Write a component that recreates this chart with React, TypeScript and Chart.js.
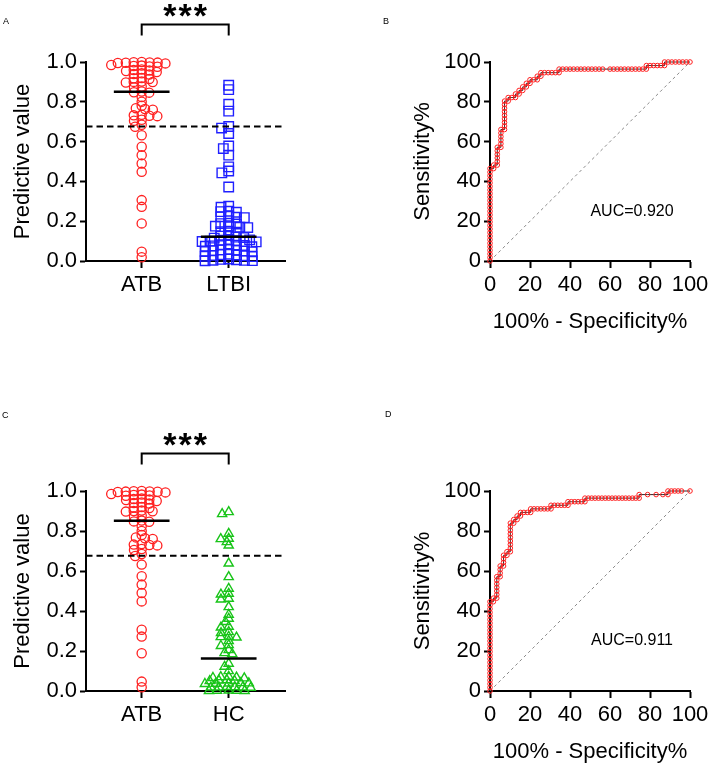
import React, { useEffect, useRef } from "react";
import { Chart, registerables } from "chart.js";

Chart.register(...registerables);

const FONT = "'Liberation Sans', Arial, Helvetica, sans-serif";
Chart.defaults.font.family = FONT;
Chart.defaults.color = "#000";

// ---------------- data ----------------
const GROUPS_A = ["ATB", "LTBI"];
const GROUPS_C = ["ATB", "HC"];
const SCATTER_Y_TICKS = [0, 0.2, 0.4, 0.6, 0.8, 1.0];
const ROC_TICKS = [0, 20, 40, 60, 80, 100];

const ATB_VALUES = [
  0.998, 0.995, 1.0, 0.997, 0.993, 0.999, 0.996,
  0.982, 0.978, 0.985, 0.98, 0.976,
  0.96, 0.955, 0.962, 0.957, 0.95,
  0.94, 0.943, 0.937,
  0.92, 0.915, 0.918,
  0.9, 0.902, 0.897, 0.899,
  0.877, 0.872,
  0.852, 0.848, 0.846,
  0.824, 0.8, 0.78,
  0.768, 0.764, 0.76,
  0.735, 0.732, 0.73, 0.728,
  0.71, 0.705,
  0.685, 0.675,
  0.632, 0.574, 0.532, 0.49, 0.448, 0.306, 0.272, 0.189, 0.047, 0.019,
];

const LTBI_VALUES = [
  0.883, 0.861, 0.788, 0.753, 0.676, 0.668, 0.641, 0.578, 0.565, 0.532, 0.473, 0.452, 0.443, 0.372,
  0.275, 0.27, 0.25, 0.248, 0.245, 0.225, 0.222, 0.22, 0.218, 0.19, 0.188, 0.186,
  0.175, 0.172, 0.17, 0.168, 0.15, 0.147, 0.145,
  0.128, 0.125, 0.12, 0.118, 0.115,
  0.108, 0.106, 0.104, 0.102, 0.1, 0.098, 0.096,
  0.085, 0.082, 0.08, 0.078, 0.076, 0.074, 0.072,
  0.058, 0.056, 0.054, 0.052, 0.05, 0.048, 0.046,
  0.034, 0.032, 0.03, 0.028, 0.026, 0.024, 0.022,
  0.01, 0.008, 0.006, 0.004, 0.003, 0.002, 0.001,
];

const HC_VALUES = [
  0.895, 0.885, 0.787, 0.762, 0.76, 0.745, 0.728, 0.638, 0.57, 0.512, 0.487, 0.483, 0.462, 0.458,
  0.42, 0.382, 0.362, 0.346, 0.322, 0.318, 0.295, 0.29, 0.272, 0.27, 0.268, 0.25, 0.23, 0.226,
  0.205, 0.19, 0.185, 0.137, 0.122, 0.1,
  0.072, 0.07, 0.068, 0.066, 0.064,
  0.055, 0.053, 0.051, 0.05,
  0.04, 0.039, 0.038, 0.037, 0.036,
  0.021, 0.02, 0.019, 0.019, 0.018, 0.017,
  0.003, 0.002, 0.002, 0.001, 0.001,
];

const ATB_CENTER = 0.851;
const LTBI_CENTER = 0.122;
const HC_CENTER = 0.162;
const CUTOFF = 0.676;
const SIGNIFICANCE = "***";

const ROC_B: number[][] = [
  [0, 0], [0, 1.79], [0, 3.57], [0, 5.36], [0, 7.14], [0, 8.93], [0, 10.71], [0, 12.5], [0, 14.29], [0, 16.07],
  [0, 17.86], [0, 19.64], [0, 21.43], [0, 23.21], [0, 25], [0, 26.79], [0, 28.57], [0, 30.36], [0, 32.14],
  [0, 33.93], [0, 35.71], [0, 37.5], [0, 39.29], [0, 41.07], [0, 42.86], [0, 44.64], [0, 46.43],
  [1.82, 46.43], [1.82, 48.21], [3.64, 48.21], [3.64, 50], [3.64, 51.79], [3.64, 53.57], [3.64, 55.36], [3.64, 57.14],
  [5.45, 57.14], [5.45, 58.93], [5.45, 60.71], [5.45, 62.5], [5.45, 64.29], [5.45, 66.07],
  [7.27, 66.07], [7.27, 67.86], [7.27, 69.64], [7.27, 71.43], [7.27, 73.21], [7.27, 75], [7.27, 76.79], [7.27, 78.57], [7.27, 80.36],
  [9.09, 80.36], [9.09, 82.14], [10.91, 82.14], [12.73, 82.14], [12.73, 83.93], [14.55, 83.93], [14.55, 85.71],
  [16.36, 85.71], [16.36, 87.5], [18.18, 87.5], [18.18, 89.29], [20, 89.29], [20, 91.07], [21.82, 91.07],
  [23.64, 91.07], [23.64, 92.86], [25.45, 92.86], [25.45, 94.64],
  [27.27, 94.64], [29.09, 94.64], [30.91, 94.64], [32.73, 94.64], [34.55, 94.64], [34.55, 96.43],
  [36.36, 96.43], [38.18, 96.43], [40, 96.43], [41.82, 96.43], [43.64, 96.43], [45.45, 96.43], [47.27, 96.43],
  [49.09, 96.43], [50.91, 96.43], [52.73, 96.43], [54.55, 96.43], [56.36, 96.43], [60, 96.43], [61.82, 96.43],
  [63.64, 96.43], [65.45, 96.43], [67.27, 96.43], [69.09, 96.43], [70.91, 96.43], [72.73, 96.43], [74.55, 96.43],
  [76.36, 96.43], [78.18, 96.43],
  [78.18, 98.21], [80, 98.21], [81.82, 98.21], [83.64, 98.21], [85.45, 98.21], [87.27, 98.21],
  [87.27, 100], [89.09, 100], [90.91, 100], [92.73, 100], [94.55, 100], [96.36, 100], [98.18, 100], [100, 100],
];

const ROC_D: number[][] = [
  [0, 0], [0, 1.79], [0, 3.57], [0, 5.36], [0, 7.14], [0, 8.93], [0, 10.71], [0, 12.5], [0, 14.29], [0, 16.07],
  [0, 17.86], [0, 19.64], [0, 21.43], [0, 23.21], [0, 25], [0, 26.79], [0, 28.57], [0, 30.36], [0, 32.14],
  [0, 33.93], [0, 35.71], [0, 37.5], [0, 39.29], [0, 41.07], [0, 42.86], [0, 44.64],
  [1.69, 44.64], [1.69, 46.43], [3.39, 46.43], [3.39, 48.21], [3.39, 50], [3.39, 51.79], [3.39, 53.57], [3.39, 55.36], [3.39, 57.14],
  [5.08, 57.14], [5.08, 58.93], [5.08, 60.71], [5.08, 62.5],
  [6.78, 62.5], [6.78, 64.29], [6.78, 66.07], [6.78, 67.86],
  [8.47, 67.86], [8.47, 69.64], [10.17, 69.64], [10.17, 71.43], [10.17, 73.21], [10.17, 75], [10.17, 76.79],
  [10.17, 78.57], [10.17, 80.36], [10.17, 82.14], [10.17, 83.93],
  [11.86, 83.93], [11.86, 85.71], [13.56, 85.71], [13.56, 87.5], [15.25, 87.5], [15.25, 89.29], [16.95, 89.29],
  [18.64, 89.29], [20.34, 89.29], [20.34, 91.07],
  [22.03, 91.07], [23.73, 91.07], [25.42, 91.07], [27.12, 91.07], [28.81, 91.07], [30.51, 91.07], [30.51, 92.86],
  [32.2, 92.86], [33.9, 92.86], [35.59, 92.86], [37.29, 92.86], [38.98, 92.86], [38.98, 94.64],
  [40.68, 94.64], [42.37, 94.64], [44.07, 94.64], [45.76, 94.64], [47.46, 94.64], [47.46, 96.43],
  [49.15, 96.43], [50.85, 96.43], [52.54, 96.43], [54.24, 96.43], [55.93, 96.43], [57.63, 96.43], [59.32, 96.43],
  [61.02, 96.43], [62.71, 96.43], [64.41, 96.43], [66.1, 96.43], [67.8, 96.43], [69.49, 96.43], [71.19, 96.43],
  [72.88, 96.43], [74.58, 96.43],
  [74.58, 98.21], [78.81, 98.21], [83.05, 98.21], [86.44, 98.21], [88.98, 98.21],
  [88.98, 100], [90.68, 100], [92.37, 100], [94.07, 100], [95.76, 100], [100, 100],
];

const CHANCE_LINE: number[][] = [[0, 0], [100, 100]];
const AUC_B = "AUC=0.920";
const AUC_D = "AUC=0.911";

// ---------------- helpers ----------------
type Area = { l: number; t: number; r: number; b: number };
type PanelDef = {
  key: string;
  left: number;
  top: number;
  w: number;
  h: number;
  area: Area;
  make: (area: Area, w: number, h: number) => any;
  swarm?: { dx: number; dy: number; values: number[] }[];
};

const X_MIN = -0.64;
const X_MAX = 1.647;
const TICK_FONT = { size: 22, family: FONT };

function axisCommon(tickLength: number) {
  return {
    grid: {
      display: true,
      drawOnChartArea: false,
      drawTicks: true,
      tickLength,
      tickWidth: 2,
      tickColor: "#000",
    },
    border: { display: true, color: "#000", width: 2 },
  };
}

// beeswarm layout (elliptical spacing) in pixel space -> offsets in x units
function swarmOffsets(values: number[], ppx: number, ppy: number, dx: number, dy: number): number[] {
  const d = dx;
  const k = dx / dy;
  const order = values.map((_, i) => i).sort((a, b) => values[b] - values[a]);
  const placed: { x: number; y: number }[] = [];
  const out = new Array(values.length).fill(0);
  for (const i of order) {
    const y = values[i] * ppy * k;
    const cands = [0];
    for (const p of placed) {
      const ddy = Math.abs(p.y - y);
      if (ddy < d) {
        const ddx = Math.sqrt(d * d - ddy * ddy);
        cands.push(p.x + ddx, p.x - ddx);
      }
    }
    cands.sort((a, b) => Math.abs(a) - Math.abs(b) || a - b);
    let best = 0;
    for (const c of cands) {
      if (placed.every((p) => (p.x - c) ** 2 + (p.y - y) ** 2 >= d * d - 1e-6)) {
        best = c;
        break;
      }
    }
    placed.push({ x: best, y });
    out[i] = best / ppx;
  }
  return out;
}

type Style = { color: string; pointStyle: string; radius: number; borderWidth: number };

function makeScatter(
  letter: string,
  letterX: number,
  letterY: number,
  cats: string[],
  series: number[][],
  centers: number[],
  styles: Style[]
) {
  return (area: Area, w: number, h: number) => {
    const datasets: any[] = [];
    series.forEach((vals, gi) => {
      const st = styles[gi];
      datasets.push({
        data: vals.map((v) => ({ x: gi, y: v })),
        pointStyle: st.pointStyle,
        pointRadius: st.radius,
        pointBorderWidth: st.borderWidth,
        pointBorderColor: st.color,
        pointBackgroundColor: "rgba(0,0,0,0)",
        borderColor: st.color,
        backgroundColor: "rgba(0,0,0,0)",
        showLine: false,
        clip: false,
        order: 3,
      });
    });
    centers.forEach((c, gi) => {
      datasets.push({
        data: [
          { x: gi - 0.32, y: c },
          { x: gi + 0.32, y: c },
        ],
        showLine: true,
        borderColor: "#000",
        borderWidth: 2.5,
        pointRadius: 0,
        clip: false,
        order: 1,
      });
    });
    datasets.push({
      data: [
        { x: X_MIN, y: CUTOFF },
        { x: X_MAX, y: CUTOFF },
      ],
      showLine: true,
      borderColor: "#000",
      borderWidth: 2,
      borderDash: [6.5, 4],
      pointRadius: 0,
      order: 0,
    });

    const annot = {
      id: "annot" + letter,
      afterDraw(chart: any) {
        const { ctx, chartArea: ca } = chart;
        const xs = chart.scales.x;
        const x0 = xs.getPixelForValue(0);
        const x1 = xs.getPixelForValue(1);
        ctx.save();
        ctx.strokeStyle = "#000";
        ctx.lineWidth = 2;
        ctx.beginPath();
        ctx.moveTo(x0, ca.top - 26.5);
        ctx.lineTo(x0, ca.top - 37.5);
        ctx.lineTo(x1, ca.top - 37.5);
        ctx.lineTo(x1, ca.top - 26.5);
        ctx.stroke();
        ctx.fillStyle = "#000";
        ctx.font = `bold 34px ${FONT}`;
        ctx.textAlign = "center";
        ctx.textBaseline = "alphabetic";
        try {
          (ctx as any).letterSpacing = "2px";
        } catch (e) {}
        ctx.fillText(SIGNIFICANCE, (x0 + x1) / 2 + 1, ca.top - 35);
        try {
          (ctx as any).letterSpacing = "0px";
        } catch (e) {}
        ctx.font = `9px ${FONT}`;
        ctx.textAlign = "left";
        ctx.fillText(letter, letterX, letterY);
        ctx.restore();
      },
    };

    return {
      type: "scatter",
      data: { datasets },
      plugins: [annot],
      options: {
        responsive: false,
        animation: false,
        devicePixelRatio: 1,
        events: [],
        layout: { padding: { left: 0, top: area.t, right: w - area.r, bottom: 0 } },
        plugins: { legend: { display: false }, tooltip: { enabled: false } },
        scales: {
          x: {
            type: "linear",
            min: X_MIN,
            max: X_MAX,
            ...axisCommon(7),
            afterBuildTicks: (s: any) => {
              s.ticks = cats.map((_, i) => ({ value: i }));
            },
            ticks: {
              font: TICK_FONT,
              color: "#000",
              padding: 4,
              autoSkip: false,
              maxRotation: 0,
              callback: (_v: any, i: number) => cats[i],
            },
            afterFit: (s: any) => {
              s.height = h - area.b;
              s.paddingLeft = 0;
              s.paddingRight = 0;
            },
          },
          y: {
            type: "linear",
            min: 0,
            max: 1,
            ...axisCommon(6),
            afterBuildTicks: (s: any) => {
              s.ticks = SCATTER_Y_TICKS.map((v) => ({ value: v }));
            },
            ticks: {
              font: TICK_FONT,
              color: "#000",
              padding: 3,
              autoSkip: false,
              callback: (_v: any, i: number) => SCATTER_Y_TICKS[i].toFixed(1),
            },
            title: {
              display: true,
              text: "Predictive value",
              font: TICK_FONT,
              color: "#000",
              padding: { top: 9.3, bottom: 0 },
            },
            afterFit: (s: any) => {
              s.width = area.l;
            },
          },
        },
      },
    };
  };
}

function makeRoc(letter: string, letterX: number, letterY: number, points: number[][], auc: string) {
  return (area: Area, w: number, h: number) => {
    const annot = {
      id: "annot" + letter,
      afterDraw(chart: any) {
        const { ctx } = chart;
        const xs = chart.scales.x;
        const ys = chart.scales.y;
        ctx.save();
        ctx.fillStyle = "#000";
        ctx.font = `16px ${FONT}`;
        ctx.textAlign = "center";
        ctx.textBaseline = "middle";
        ctx.fillText(auc, xs.getPixelForValue(71), ys.getPixelForValue(25));
        ctx.font = `9px ${FONT}`;
        ctx.textAlign = "left";
        ctx.textBaseline = "alphabetic";
        ctx.fillText(letter, letterX, letterY);
        ctx.restore();
      },
    };
    return {
      type: "scatter",
      data: {
        datasets: [
          {
            data: points.map((p) => ({ x: p[0], y: p[1] })),
            showLine: true,
            borderColor: "#2a2a2a",
            borderWidth: 1,
            pointRadius: 2.3,
            pointBorderWidth: 1,
            pointBorderColor: "#ff2020",
            pointBackgroundColor: "rgba(0,0,0,0)",
            tension: 0,
            clip: false,
            order: 0,
          },
          {
            data: CHANCE_LINE.map((p) => ({ x: p[0], y: p[1] })),
            showLine: true,
            borderColor: "#8a8a8a",
            borderWidth: 1,
            borderDash: [3, 3],
            pointRadius: 0,
            order: 1,
          },
        ],
      },
      plugins: [annot],
      options: {
        responsive: false,
        animation: false,
        devicePixelRatio: 1,
        events: [],
        layout: { padding: { left: 0, top: area.t, right: w - area.r, bottom: 0 } },
        plugins: { legend: { display: false }, tooltip: { enabled: false } },
        scales: {
          x: {
            type: "linear",
            min: 0,
            max: 100,
            ...axisCommon(7),
            afterBuildTicks: (s: any) => {
              s.ticks = ROC_TICKS.map((v) => ({ value: v }));
            },
            ticks: {
              font: TICK_FONT,
              color: "#000",
              padding: 4,
              autoSkip: false,
              maxRotation: 0,
              callback: (_v: any, i: number) => String(ROC_TICKS[i]),
            },
            title: {
              display: true,
              text: "100% - Specificity%",
              font: TICK_FONT,
              color: "#000",
              padding: { top: 0, bottom: h - area.b - 61 - 13.2 },
            },
            afterFit: (s: any) => {
              s.height = h - area.b;
              s.paddingLeft = 0;
              s.paddingRight = 0;
            },
          },
          y: {
            type: "linear",
            min: 0,
            max: 100,
            ...axisCommon(6),
            afterBuildTicks: (s: any) => {
              s.ticks = ROC_TICKS.map((v) => ({ value: v }));
            },
            ticks: {
              font: TICK_FONT,
              color: "#000",
              padding: 3,
              autoSkip: false,
              callback: (_v: any, i: number) => String(ROC_TICKS[i]),
            },
            title: {
              display: true,
              text: "Sensitivity%",
              font: TICK_FONT,
              color: "#000",
              padding: { top: 55.5, bottom: 0 },
            },
            afterFit: (s: any) => {
              s.width = area.l;
            },
          },
        },
      },
    };
  };
}

const RED: Style = { color: "#ff2020", pointStyle: "circle", radius: 4.6, borderWidth: 1.3 };
const BLUE: Style = { color: "#2020ff", pointStyle: "rect", radius: 6.7, borderWidth: 1.4 };
const GREEN: Style = { color: "#19c419", pointStyle: "triangle", radius: 5.3, borderWidth: 1.4 };

const PANELS: PanelDef[] = [
  {
    key: "A",
    left: 0,
    top: 0,
    w: 354,
    h: 380,
    area: { l: 86, t: 62, r: 285, b: 261 },
    make: makeScatter("A", 3, 24, GROUPS_A, [ATB_VALUES, LTBI_VALUES], [ATB_CENTER, LTBI_CENTER], [RED, BLUE]),
    swarm: [
      { dx: 8, dy: 3.5, values: ATB_VALUES },
      { dx: 8, dy: 3.5, values: LTBI_VALUES },
    ],
  },
  {
    key: "B",
    left: 354,
    top: 0,
    w: 354,
    h: 380,
    area: { l: 136, t: 62, r: 336, b: 261 },
    make: makeRoc("B", 29, 24, ROC_B, AUC_B),
  },
  {
    key: "C",
    left: 0,
    top: 380,
    w: 354,
    h: 383,
    area: { l: 86, t: 111, r: 285, b: 311 },
    make: makeScatter("C", 2, 38, GROUPS_C, [ATB_VALUES, HC_VALUES], [ATB_CENTER, HC_CENTER], [RED, GREEN]),
    swarm: [
      { dx: 8, dy: 3.5, values: ATB_VALUES },
      { dx: 8, dy: 3.5, values: HC_VALUES },
    ],
  },
  {
    key: "D",
    left: 354,
    top: 380,
    w: 354,
    h: 400,
    area: { l: 136, t: 111, r: 336, b: 311 },
    make: makeRoc("D", 31, 37, ROC_D, AUC_D),
  },
];

function Panel({ def }: { def: PanelDef }) {
  const ref = useRef<HTMLCanvasElement>(null);
  useEffect(() => {
    const canvas = ref.current;
    if (!canvas) return;
    const chart = new Chart(canvas, def.make(def.area, def.w, def.h));
    if (def.swarm) {
      const xs: any = chart.scales.x;
      const ys: any = chart.scales.y;
      const ppx = Math.abs(xs.getPixelForValue(1) - xs.getPixelForValue(0));
      const ppy = Math.abs(ys.getPixelForValue(0) - ys.getPixelForValue(1));
      def.swarm.forEach((g, gi) => {
        const offs = swarmOffsets(g.values, ppx, ppy, g.dx, g.dy);
        chart.data.datasets[gi].data = g.values.map((v, i) => ({ x: gi + offs[i], y: v })) as any;
      });
      chart.update("none");
    }
    return () => chart.destroy();
  }, [def]);
  return (
    <canvas
      ref={ref}
      width={def.w}
      height={def.h}
      style={{ position: "absolute", left: def.left, top: def.top, width: def.w, height: def.h, display: "block" }}
    />
  );
}

export default function App() {
  return (
    <div
      style={{
        position: "absolute",
        left: 0,
        top: 0,
        width: 708,
        height: 763,
        overflow: "hidden",
        background: "#fff",
      }}
    >
      {PANELS.map((p) => (
        <Panel key={p.key} def={p} />
      ))}
    </div>
  );
}
